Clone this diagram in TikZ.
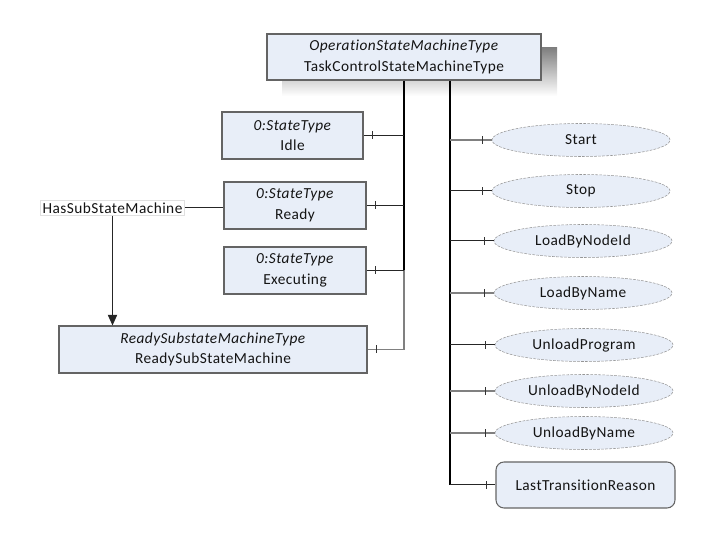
\documentclass[tikz,border=0pt]{standalone}
\usepackage{fontspec}
\setmainfont{Carlito}[Ligatures=NoCommon,LetterSpace=3]
\usetikzlibrary{arrows.meta,shapes.geometric,decorations.markings}
\definecolor{boxfill}{RGB}{232,238,248}
\definecolor{boxdraw}{RGB}{100,100,100}
\definecolor{shade}{RGB}{218,219,223}
\definecolor{elldraw}{RGB}{150,150,150}
\definecolor{txt}{RGB}{20,20,20}
\tikzset{
  lbl/.style={font=\fontsize{11.5}{15.5}\selectfont,text=txt},
  typebox/.style={lbl,draw=boxdraw,fill=boxfill,line width=0.8pt,align=center,inner sep=1pt},
  methell/.style={lbl,ellipse,draw=elldraw,dashed,dash pattern=on 2pt off 1pt,fill=boxfill,minimum width=133.5pt,minimum height=24.75pt,inner sep=0pt},
  trunk/.style={draw=black,line width=1.5pt},
  branch/.style={draw=black!85,line width=0.75pt},
  gbranch/.style={draw=black!50,line width=0.9pt},
  ticked/.style={postaction={decorate,decoration={markings,mark=at position -6.75pt with {\draw[black!80,line width=0.6pt] (0,-3pt) -- (0,3pt);}}}},
}
\begin{document}
\begin{tikzpicture}[x=0.75pt,y=-0.75pt]
\useasboundingbox (0,0) rectangle (708,541);
% shadow of top box
\fill[shade] (282,48) rectangle (557,96);
\node[typebox,minimum width=205.5pt,minimum height=34.5pt] (top) at (404,57) {\textit{OperationStateMachineType}\\TaskControlStateMachineType};
\node[typebox,minimum width=105.75pt,minimum height=35.25pt] (idle) at (292.5,135.5) {\textit{0:StateType}\\Idle};
\node[typebox,minimum width=106.5pt,minimum height=35.25pt] (ready) at (295,205.5) {\textit{0:StateType}\\Ready};
\node[typebox,minimum width=106.5pt,minimum height=35.25pt] (exec) at (295,270.5) {\textit{0:StateType}\\Executing};
\node[typebox,minimum width=231pt,minimum height=35.25pt] (rsm) at (213,349.5) {\textit{ReadySubstateMachineType}\\ReadySubStateMachine};
\node[lbl,draw=black!12,fill=white,inner sep=1.5pt] (hsm) at (112.5,208) {HasSubStateMachine};

\node[methell] (start) at (581,140) {Start};
\node[methell] (stop) at (581,191) {Stop};
\node[methell] (lbni) at (583,241) {LoadByNodeId};
\node[methell] (lbn) at (583,293) {LoadByName};
\node[methell] (up) at (584,345) {UnloadProgram};
\node[methell] (ubni) at (584,391) {UnloadByNodeId};
\node[methell] (ubn) at (584,433) {UnloadByName};
\node[lbl,draw=boxdraw,fill=boxfill,line width=0.8pt,rounded corners=6pt,minimum width=134.25pt,minimum height=34.5pt] (ltr) at (585.5,485) {LastTransitionReason};

\coordinate (L) at (404,0);
\coordinate (R) at (450,0);

% left trunk
\draw[trunk] (top.south -| L) -- (exec.east -| L);
\draw[gbranch,ticked] (exec.east -| L) -- (rsm.east -| L) -- (rsm.east);
\draw[branch,ticked] (idle.east -| L) -- (idle.east);
\draw[branch,ticked] (ready.east -| L) -- (ready.east);
\draw[branch,ticked] (exec.east -| L) -- (exec.east);

% right trunk
\draw[trunk] (top.south -| R) -- (ltr.west -| R);
\draw[gbranch,ticked] (start.west -| R) -- (start.west);
\draw[branch,ticked] (stop.west -| R) -- (stop.west);
\draw[branch,ticked] (lbni.west -| R) -- (lbni.west);
\draw[gbranch,ticked] (lbn.west -| R) -- (lbn.west);
\draw[branch,ticked] (up.west -| R) -- (up.west);
\draw[gbranch,ticked] (ubni.west -| R) -- (ubni.west);
\draw[gbranch,ticked] (ubn.west -| R) -- (ubn.west);
\draw[branch,ticked] (ltr.west -| R) -- (ltr.west);

% HasSubStateMachine reference
\draw[branch] (hsm.east) -- (hsm.east -| ready.west);
\draw[branch,-{Triangle[length=8pt,width=7pt]}] (hsm.south) -- (hsm.south |- rsm.north);
\end{tikzpicture}
\end{document}
